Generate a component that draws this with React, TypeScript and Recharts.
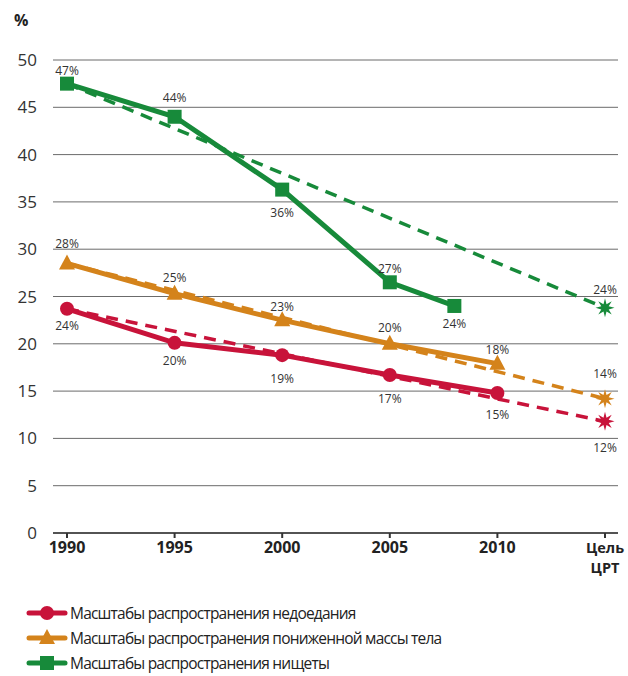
import { LineChart, Line, XAxis, YAxis, CartesianGrid, Legend, LabelList } from "recharts"

const years = [1990, 1995, 2000, 2005, 2010]
const povertyYears = [1990, 1995, 2000, 2005, 2008]
const targetYears = [1990, 2015]
const xTicks = [1990, 1995, 2000, 2005, 2010, 2015]
const yTicks = [0, 5, 10, 15, 20, 25, 30, 35, 40, 45, 50]

const undernourishment = [23.7, 20.1, 18.8, 16.7, 14.8]
const underweight = [28.5, 25.3, 22.5, 20.0, 17.9]
const poverty = [47.5, 44.0, 36.3, 26.5, 24.0]

const undernourishmentTarget = [23.7, 11.8]
const underweightTarget = [28.5, 14.2]
const povertyTarget = [47.5, 23.8]

const undernourishmentLabels = ["24%", "20%", "19%", "17%", "15%"]
const underweightLabels = ["28%", "25%", "23%", "20%", "18%"]
const povertyLabels = ["47%", "44%", "36%", "27%", "24%"]
const undernourishmentTargetLabels = ["", "12%"]
const underweightTargetLabels = ["", "14%"]
const povertyTargetLabels = ["", "24%"]

const seriesNames = [
  "Масштабы распространения недоедания",
  "Масштабы распространения пониженной массы тела",
  "Масштабы распространения нищеты",
]

// vertical offsets of the percent labels (px, from the point)
const undernourishmentDy = [17, 18, 23, 23, 22]
const underweightDy = [-20, -16, -14, -16, -14]
const povertyDy = [-13, -19, 23, -14, 18]
const undernourishmentTargetDy = [0, 26]
const underweightTargetDy = [0, -25]
const povertyTargetDy = [0, -18]

const RED = "#c8133a"
const ORANGE = "#d4831b"
const GREEN = "#178a3a"
const FONT = "'Open Sans', sans-serif"

const rows = (xs: number[], vals: number[], labels: string[]) =>
  xs.map((x, i) => ({ year: x, value: vals[i], label: labels[i] }))

const redData = rows(years, undernourishment, undernourishmentLabels)
const orangeData = rows(years, underweight, underweightLabels)
const greenData = rows(povertyYears, poverty, povertyLabels)
const redTarget = rows(targetYears, undernourishmentTarget, undernourishmentTargetLabels)
const orangeTarget = rows(targetYears, underweightTarget, underweightTargetLabels)
const greenTarget = rows(targetYears, povertyTarget, povertyTargetLabels)

function Marker({ kind, cx, cy, color }: { kind: string; cx: number; cy: number; color: string }) {
  if (kind === "circle") return <circle cx={cx} cy={cy} r={7} fill={color} />
  if (kind === "square") return <rect x={cx - 7} y={cy - 7} width={14} height={14} fill={color} />
  if (kind === "triangle")
    return <polygon points={`${cx},${cy - 9} ${cx + 8},${cy + 6} ${cx - 8},${cy + 6}`} fill={color} />
  // 8-pointed star
  const pts: string[] = []
  for (let i = 0; i < 16; i++) {
    const r = i % 2 === 0 ? 9.5 : 4
    const a = (Math.PI / 8) * i - Math.PI / 2
    pts.push(`${cx + r * Math.cos(a)},${cy + r * Math.sin(a)}`)
  }
  return <polygon points={pts.join(" ")} fill={color} />
}

const dotFor = (kind: string, color: string, onlyLast = false) => (props: any) => {
  const { cx, cy, index } = props
  if (onlyLast && index === 0) return <g key={`d-${index}`} />
  return (
    <g key={`d-${kind}-${index}`}>
      <Marker kind={kind} cx={cx} cy={cy} color={color} />
    </g>
  )
}

const labelFor = (dys: number[]) => (props: any) => {
  const { x, y, index, value } = props
  if (!value) return null
  return (
    <text
      x={x}
      y={y + dys[index]}
      textAnchor="middle"
      dominantBaseline="central"
      fontSize={12}
      fontFamily={FONT}
      fill="#333"
    >
      {value}
    </text>
  )
}

function XTick(props: any) {
  const { x, y, payload } = props
  const style = { fontSize: 16, fontWeight: 700, fontFamily: FONT, fill: "#222" }
  if (payload.value === 2015) {
    return (
      <g>
        <text x={x} y={y + 13} textAnchor="middle" {...style} fontSize={14.5}>
          Цель
        </text>
        <text x={x} y={y + 33} textAnchor="middle" {...style} fontSize={14.5}>
          ЦРТ
        </text>
      </g>
    )
  }
  return (
    <text x={x} y={y + 13} textAnchor="middle" {...style}>
      {payload.value}
    </text>
  )
}

const legendItems = [
  { name: seriesNames[0], color: RED, kind: "circle" },
  { name: seriesNames[1], color: ORANGE, kind: "triangle" },
  { name: seriesNames[2], color: GREEN, kind: "square" },
]

function LegendBox() {
  return (
    <div style={{ paddingTop: 10, paddingLeft: 26 }}>
      {legendItems.map((it) => (
        <div key={it.name} style={{ display: "flex", alignItems: "center", height: 25 }}>
          <svg width={42} height={20}>
            <line x1={3} y1={10} x2={39} y2={10} stroke={it.color} strokeWidth={5} strokeLinecap="round" />
            <Marker kind={it.kind} cx={21} cy={10} color={it.color} />
          </svg>
          <span style={{ fontFamily: FONT, fontSize: 15.5, color: "#222", marginLeft: 2, letterSpacing: -0.8 }}>
            {it.name}
          </span>
        </div>
      ))}
    </div>
  )
}

export default function App() {
  return (
    <div style={{ position: "absolute", left: 0, top: 0, width: 628, height: 676, background: "#fff" }}>
      <div
        style={{
          position: "absolute",
          left: 14,
          top: 9,
          fontFamily: FONT,
          fontWeight: 700,
          fontSize: 16,
          color: "#222",
        }}
      >
        %
      </div>
      <LineChart width={628} height={676} margin={{ top: 60, right: 10, left: 0, bottom: 0 }}>
        <CartesianGrid vertical={false} stroke="#6b6b6b" strokeWidth={1} />
        <XAxis
          dataKey="year"
          type="number"
          domain={[1990, 2015]}
          ticks={xTicks}
          padding={{ left: 14, right: 13 }}
          height={57}
          axisLine={{ stroke: "#333", strokeWidth: 1.5 }}
          tickLine={{ stroke: "#333", strokeWidth: 2 }}
          tickSize={5}
          tick={<XTick />}
          allowDuplicatedCategory={false}
        />
        <YAxis
          type="number"
          domain={[0, 50]}
          ticks={yTicks}
          width={53}
          axisLine={false}
          tickLine={false}
          tickSize={0}
          tickMargin={16}
          tick={{ fontSize: 17, fill: "#333", fontFamily: FONT }}
        />
        <Legend
          verticalAlign="bottom"
          layout="vertical"
          align="center"
          height={86}
          wrapperStyle={{ left: 0, top: 590, width: 628, height: 86 }}
          content={<LegendBox />}
        />

        <Line data={greenTarget} dataKey="value" stroke={GREEN} strokeWidth={3.5} strokeDasharray="12 8"
          dot={dotFor("star", GREEN, true)} activeDot={false} isAnimationActive={false} legendType="none">
          <LabelList dataKey="label" content={labelFor(povertyTargetDy)} />
        </Line>
        <Line data={orangeTarget} dataKey="value" stroke={ORANGE} strokeWidth={3.5} strokeDasharray="12 8"
          dot={dotFor("star", ORANGE, true)} activeDot={false} isAnimationActive={false} legendType="none">
          <LabelList dataKey="label" content={labelFor(underweightTargetDy)} />
        </Line>
        <Line data={redTarget} dataKey="value" stroke={RED} strokeWidth={3.5} strokeDasharray="12 8"
          dot={dotFor("star", RED, true)} activeDot={false} isAnimationActive={false} legendType="none">
          <LabelList dataKey="label" content={labelFor(undernourishmentTargetDy)} />
        </Line>

        <Line data={greenData} dataKey="value" name={seriesNames[2]} stroke={GREEN} strokeWidth={5}
          dot={dotFor("square", GREEN)} activeDot={false} isAnimationActive={false}>
          <LabelList dataKey="label" content={labelFor(povertyDy)} />
        </Line>
        <Line data={orangeData} dataKey="value" name={seriesNames[1]} stroke={ORANGE} strokeWidth={5}
          dot={dotFor("triangle", ORANGE)} activeDot={false} isAnimationActive={false}>
          <LabelList dataKey="label" content={labelFor(underweightDy)} />
        </Line>
        <Line data={redData} dataKey="value" name={seriesNames[0]} stroke={RED} strokeWidth={5}
          dot={dotFor("circle", RED)} activeDot={false} isAnimationActive={false}>
          <LabelList dataKey="label" content={labelFor(undernourishmentDy)} />
        </Line>
      </LineChart>
    </div>
  )
}
